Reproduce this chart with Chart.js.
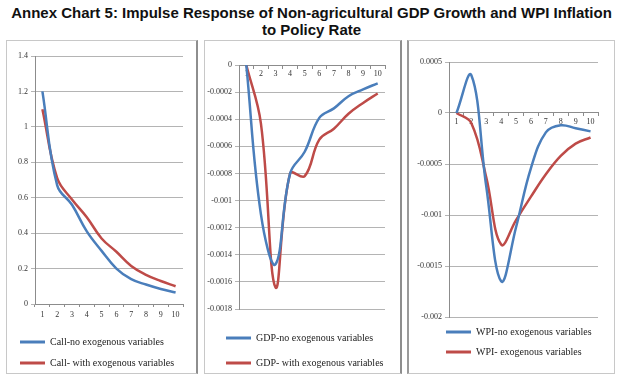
<!DOCTYPE html>
<html>
<head>
<meta charset="utf-8">
<script src="https://cdn.jsdelivr.net/npm/chart.js@4.4.1/dist/chart.umd.min.js"></script>
<style>
  body { margin: 0; background: #fff; width: 623px; height: 386px; position: relative; overflow: hidden; }
  #title { position: absolute; left: 0; top: 4px; width: 623px; text-align: center;
           font: bold 15px/17px "Liberation Sans", Arial, sans-serif; color: #111; }
  .panel { position: absolute; top: 40px; height: 334px; box-sizing: border-box;
           border: 1px solid #c8c8c8; }
  canvas { position: absolute; }
</style>
</head>
<body>
<div id="title">Annex Chart 5: Impulse Response of Non-agricultural GDP Growth and WPI Inflation<br>to Policy Rate</div>

<div class="panel" style="left:6px;width:192px;border-right:2px solid #8e8e8e"></div>
<div class="panel" style="left:204px;width:198px;border-right:2px solid #8e8e8e"></div>
<div class="panel" style="left:407px;width:208px;border-left:2px solid #9a9a9a"></div>

<canvas id="callChart" width="189" height="337" style="left:7px;top:41px"></canvas>
<canvas id="gdpChart" width="194" height="337" style="left:205px;top:41px"></canvas>
<canvas id="wpiChart" width="202" height="326" style="left:409px;top:41px"></canvas>

<script>
// periods after the policy rate shock
const periods = ['1', '2', '3', '4', '5', '6', '7', '8', '9', '10'];

// call rate response
const callNoExog   = [1.2, 0.67, 0.56, 0.41, 0.30, 0.20, 0.14, 0.11, 0.085, 0.065];
const callWithExog = [1.1, 0.71, 0.59, 0.49, 0.37, 0.295, 0.215, 0.165, 0.13, 0.10];

// non-agricultural GDP growth response
const gdpNoExog   = [0, -0.0011, -0.00147, -0.0008, -0.00064, -0.00039, -0.00032, -0.00023, -0.00018, -0.000135];
const gdpWithExog = [0, -0.00043, -0.00164, -0.0008, -0.00082, -0.00055, -0.00047, -0.00036, -0.00028, -0.00021];

// WPI inflation response
const wpiNoExog   = [0, 0.00037, -0.00072, -0.00165, -0.00112, -0.00054, -0.00019, -0.00012, -0.00015, -0.00018];
const wpiWithExog = [0, -0.0001, -0.00063, -0.00129, -0.00105, -0.00082, -0.0006, -0.00042, -0.0003, -0.00024];

const BLUE = '#4a7ebb';
const RED = '#be4b48';
const SERIF = '"Liberation Serif", "Times New Roman", serif';

Chart.defaults.font.family = SERIF;

const fmt = v => {
  const r = parseFloat(Number(v).toFixed(6));
  return String(r === 0 ? 0 : r);
};

// moves the legend sideways so it can sit left of the plot independently of the y axis
const legendShift = {
  id: 'legendShift',
  afterLayout(chart, args, opts) {
    if (chart.legend && opts.dx) {
      chart.legend.left += opts.dx;
      chart.legend.right += opts.dx;
    }
  }
};

function buildChart(id, series, yRange, box) {
  const legendLabels = {
    boxWidth: 25,
    boxHeight: 3,
    padding: box.legendPad,
    color: '#222',
    font: { family: SERIF, size: 10 },
    generateLabels: chart =>
      Chart.defaults.plugins.legend.labels.generateLabels(chart).map(l => ({ ...l, lineWidth: 0 }))
  };

  const xScale = {
    offset: true,
    position: box.xAtZero ? { y: 0 } : 'bottom',
    grid: { drawOnChartArea: false, offset: true, tickLength: 3, color: '#8c8c8c' },
    border: { color: '#8c8c8c' },
    ticks: { font: { size: 8 }, color: '#333', padding: box.xAtZero ? 1 : 3, maxRotation: 0, autoSkip: false }
  };
  if (!box.xAtZero) xScale.afterFit = s => { s.height = box.xHeight; };

  return new Chart(document.getElementById(id), {
    type: 'line',
    plugins: [legendShift],
    data: {
      labels: periods,
      datasets: series.map(s => ({
        label: s.label,
        data: s.data,
        borderColor: s.color,
        backgroundColor: s.color,
        borderWidth: 2.5,
        pointRadius: 0,
        tension: 0.4,
        fill: false
      }))
    },
    options: {
      responsive: false,
      animation: false,
      devicePixelRatio: 1,
      layout: { padding: box.pad },
      plugins: {
        tooltip: { enabled: false },
        legendShift: { dx: box.legendDx || 0 },
        legend: {
          position: 'bottom',
          align: 'start',
          title: {
            display: box.titleH > 0,
            text: ' ',
            font: { size: 1, lineHeight: 1 },
            padding: { top: Math.max(box.titleH - 1, 0), bottom: 0 }
          },
          labels: legendLabels
        }
      },
      scales: {
        x: xScale,
        y: {
          min: yRange.min,
          max: yRange.max,
          grid: { color: '#b4b4b4', tickLength: 4 },
          border: { color: '#8c8c8c' },
          ticks: { stepSize: yRange.step, callback: fmt, font: { size: 8 }, color: '#333', padding: 3 },
          afterFit: s => { s.width = box.yWidth; }
        }
      }
    }
  });
}

buildChart('callChart', [
  { label: 'Call-no exogenous variables', data: callNoExog, color: BLUE },
  { label: 'Call- with exogenous variables', data: callWithExog, color: RED }
], { min: 0, max: 1.4, step: 0.2 },
{ pad: { left: 2, top: 15, right: 13, bottom: 0 }, yWidth: 26, xHeight: 22, legendPad: 11, titleH: 0, xAtZero: false });

buildChart('gdpChart', [
  { label: 'GDP-no exogenous variables', data: gdpNoExog, color: BLUE },
  { label: 'GDP- with exogenous variables', data: gdpWithExog, color: RED }
], { min: -0.0018, max: 0, step: 0.0002 },
{ pad: { left: 0, top: 24, right: 14, bottom: 0 }, yWidth: 34, legendPad: 15, legendDx: 6, titleH: 9, xAtZero: true });

buildChart('wpiChart', [
  { label: 'WPI-no exogenous variables', data: wpiNoExog, color: BLUE },
  { label: 'WPI- exogenous variables', data: wpiWithExog, color: RED }
], { min: -0.002, max: 0.0005, step: 0.0005 },
{ pad: { left: 0, top: 21, right: 13, bottom: 0 }, yWidth: 40, legendPad: 10, legendDx: 27, titleH: 0, xAtZero: true });
</script>
</body>
</html>
